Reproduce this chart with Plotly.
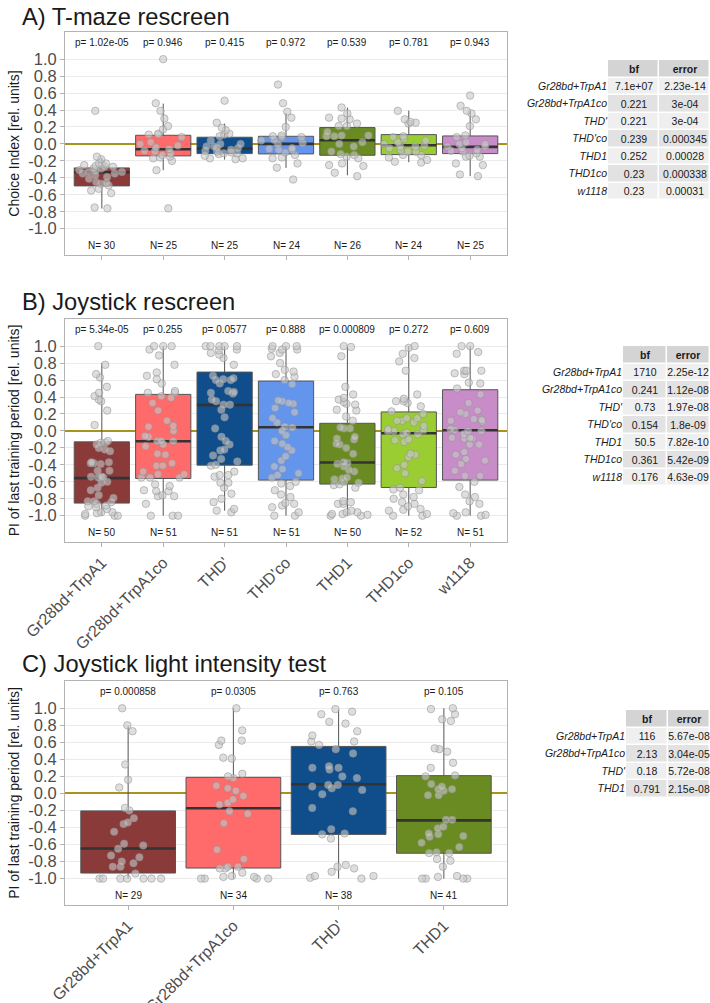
import plotly.graph_objects as go

FONT = "Liberation Sans, Arial, sans-serif"
W, H = 710, 1003

# ---------------- data ----------------
cats_ab = ["Gr28bd+TrpA1", "Gr28bd+TrpA1co", "THD'", "THD'co", "THD1", "THD1co", "w1118"]
colors_ab = ["#8B3A3A", "#FF6A6A", "#104E8B", "#6495ED", "#698B22", "#9ACD32", "#C88CC8"]
cats_c = ["Gr28bd+TrpA1", "Gr28bd+TrpA1co", "THD'", "THD1"]
colors_c = ["#8B3A3A", "#FF6A6A", "#104E8B", "#698B22"]

ytick_vals = [-1.0, -0.8, -0.6, -0.4, -0.2, 0.0, 0.2, 0.4, 0.6, 0.8, 1.0]
ytick_text = ["-1.0", "-0.8", "-0.6", "-0.4", "-0.2", "0.0", "0.2", "0.4", "0.6", "0.8", "1.0"]
table_cols = ["bf", "error"]

# Panel A: T-maze rescreen
p_a = ["1.02e-05", "0.946", "0.415", "0.972", "0.539", "0.781", "0.943"]
n_a = [30, 25, 25, 24, 26, 24, 25]
q1_a = [-0.495, -0.141, -0.114, -0.118, -0.134, -0.126, -0.114]
med_a = [-0.334, -0.063, -0.055, 0.0, 0.043, -0.016, -0.035]
q3_a = [-0.283, 0.102, 0.079, 0.09, 0.193, 0.11, 0.094]
lo_a = [-0.762, -0.31, -0.185, -0.283, -0.37, -0.216, -0.38]
hi_a = [-0.165, 0.475, 0.24, 0.365, 0.428, 0.393, 0.385]
pts_a1 = [-0.18, -0.23, -0.26, -0.24, -0.27, -0.15, -0.27, 0.39, -0.33, -0.31, -0.33, -0.41, -0.45, -0.46, -0.47,
          -0.53, -0.49, -0.55, -0.58, -0.76, -0.75, -0.35, -0.35, -0.32, -0.25, -0.29, -0.37, -0.39, -0.29, -0.23]
pts_a2 = [1.0, 0.48, 0.39, 0.30, 0.17, 0.21, 0.11, 0.11, 0.08, 0.12, -0.02, -0.08, -0.11, -0.17, -0.16, -0.09,
          -0.06, 0.0, -0.13, -0.2, -0.31, -0.76, 0.02, -0.04, -0.15]
pts_a3 = [0.51, 0.25, 0.19, 0.16, 0.12, 0.09, 0.11, 0.0, -0.05, -0.07, -0.17, -0.18, -0.14, -0.09, -0.03, -0.1,
          -0.11, -0.11, -0.08, -0.05, -0.12, -0.17, 0.0, 0.04, -0.03]
pts_a4 = [0.70, 0.48, 0.38, 0.31, 0.2, 0.1, 0.08, 0.08, 0.09, 0.01, 0.0, -0.06, -0.07, -0.07, -0.13, -0.16, -0.1,
          -0.23, -0.28, -0.17, -0.42, 0.04, 0.05, -0.05]
pts_a5 = [0.43, 0.31, 0.36, 0.3, 0.21, 0.21, 0.29, 0.24, 0.14, 0.09, 0.09, 0.1, 0.1, 0.02, -0.03, 0.0, -0.09,
          -0.12, -0.13, -0.17, -0.23, -0.25, -0.26, -0.34, -0.38, -0.15]
pts_a6 = [0.39, 0.26, 0.24, 0.25, 0.29, 0.08, 0.09, 0.0, 0.02, -0.03, -0.02, -0.09, -0.05, -0.13, -0.13, -0.16,
          -0.19, -0.22, -0.21, -0.07, -0.03, 0.04, 0.06, -0.09]
pts_a7 = [0.57, 0.45, 0.39, 0.36, 0.29, 0.21, 0.1, 0.08, 0.0, -0.03, -0.07, -0.15, -0.15, -0.14, -0.03, -0.05,
          -0.08, -0.23, -0.25, -0.38, -0.36, -0.11, -0.09, 0.02, 0.0]
bf_a = ["7.1e+07", "0.221", "0.221", "0.239", "0.252", "0.23", "0.23"]
err_a = ["2.23e-14", "3e-04", "3e-04", "0.000345", "0.00028", "0.000338", "0.00031"]

# Panel B: Joystick rescreen
p_b = ["5.34e-05", "0.255", "0.0577", "0.888", "0.000809", "0.272", "0.609"]
n_b = [50, 51, 51, 51, 50, 52, 51]
q1_b = [-0.851, -0.561, -0.404, -0.58, -0.627, -0.667, -0.58]
med_b = [-0.557, -0.122, 0.306, 0.043, -0.373, -0.027, 0.008]
q3_b = [-0.129, 0.431, 0.694, 0.588, 0.09, 0.224, 0.486]
lo_b = [-1.0, -1.0, -0.94, -1.0, -1.0, -1.0, -1.0]
hi_b = [0.80, 1.0, 1.0, 1.0, 0.99, 1.0, 1.0]
pts_b1 = [1.0, 0.78, 0.63, 0.67, 0.52, 0.45, 0.41, 0.37, 0.35, 0.24, 0.07, -0.12, -0.16, -0.14, -0.14, -0.2,
          -0.22, -0.38, -0.37, -0.39, -0.38, -0.54, -0.55, -0.54, -0.61, -0.6, -0.7, -0.76, -0.79, -0.83, -0.83,
          -0.84, -0.86, -0.88, -0.9, -0.96, -0.98, -1.0, -1.0, -0.92, -0.97, -0.89, -0.67, -0.47, -0.47, -0.37,
          -0.24, -0.55, -0.96, -1.0]
pts_b2 = [1.0, 1.0, 1.0, 0.96, 0.89, 0.78, 0.69, 0.65, 0.61, 0.56, 0.47, 0.45, 0.45, 0.41, 0.39, 0.33, 0.24,
          0.12, 0.06, 0.05, 0.0, -0.06, -0.07, -0.12, -0.12, -0.12, -0.16, -0.18, -0.27, -0.28, -0.38, -0.41,
          -0.41, -0.48, -0.51, -0.51, -0.55, -0.55, -0.55, -0.63, -0.65, -0.7, -0.71, -0.71, -0.76, -0.77, -0.77,
          -0.86, -1.0, -1.0, -1.0]
pts_b3 = [1.0, 1.0, 1.0, 1.0, 1.0, 0.96, 0.95, 0.92, 0.9, 0.86, 0.78, 0.65, 0.62, 0.61, 0.6, 0.6, 0.56, 0.47,
          0.46, 0.45, 0.44, 0.37, 0.35, 0.31, 0.31, 0.25, 0.16, 0.03, -0.07, -0.12, -0.16, -0.23, -0.29, -0.33,
          -0.36, -0.4, -0.41, -0.48, -0.52, -0.52, -0.54, -0.61, -0.61, -0.67, -0.74, -0.8, -0.84, -0.92, -0.94,
          -0.96, -0.22]
pts_b4 = [1.0, 1.0, 1.0, 0.97, 0.96, 0.96, 0.92, 0.88, 0.8, 0.72, 0.7, 0.67, 0.64, 0.6, 0.55, 0.36, 0.35, 0.33,
          0.32, 0.27, 0.22, 0.15, 0.1, 0.05, 0.04, 0.0, -0.05, -0.12, -0.15, -0.19, -0.23, -0.3, -0.35, -0.42,
          -0.45, -0.5, -0.52, -0.55, -0.6, -0.62, -0.65, -0.7, -0.75, -0.78, -0.85, -0.86, -0.88, -0.9, -0.96,
          -1.0, -1.0]
pts_b5 = [1.0, 0.99, 0.88, 0.52, 0.43, 0.39, 0.37, 0.34, 0.32, 0.31, 0.25, 0.24, 0.17, 0.12, 0.04, 0.03, 0.03,
          -0.07, -0.09, -0.1, -0.15, -0.16, -0.2, -0.27, -0.37, -0.38, -0.39, -0.42, -0.46, -0.48, -0.55, -0.56,
          -0.57, -0.6, -0.61, -0.63, -0.64, -0.67, -0.83, -0.84, -0.86, -0.86, -0.94, -0.96, -0.96, -0.98, -0.99,
          -1.0, -1.0, -0.98]
pts_b6 = [1.0, 0.98, 0.91, 0.86, 0.82, 0.71, 0.43, 0.38, 0.35, 0.35, 0.33, 0.29, 0.23, 0.2, 0.15, 0.15, 0.12,
          0.12, 0.1, 0.06, 0.02, 0.01, 0.0, 0.0, -0.02, -0.04, -0.04, -0.1, -0.11, -0.13, -0.27, -0.28, -0.31,
          -0.4, -0.44, -0.5, -0.59, -0.67, -0.69, -0.7, -0.75, -0.78, -0.8, -0.84, -0.86, -0.89, -0.92, -0.93,
          -0.94, -0.98, -1.0, -1.0]
pts_b7 = [1.0, 1.0, 0.93, 0.91, 0.71, 0.71, 0.71, 0.68, 0.67, 0.57, 0.56, 0.5, 0.43, 0.33, 0.24, 0.22, 0.2,
          0.14, 0.13, 0.12, 0.11, 0.02, 0.01, 0.0, 0.0, -0.04, -0.08, -0.08, -0.09, -0.09, -0.16, -0.16, -0.25,
          -0.28, -0.33, -0.35, -0.39, -0.47, -0.53, -0.53, -0.6, -0.66, -0.75, -0.78, -0.83, -0.86, -0.96, -0.97,
          -0.99, -1.0, -1.0]
bf_b = ["1710", "0.241", "0.73", "0.154", "50.5", "0.361", "0.176"]
err_b = ["2.25e-12", "1.12e-08", "1.97e-08", "1.8e-09", "7.82e-10", "5.42e-09", "4.63e-09"]

# Panel C: Joystick light intensity test
p_c = ["0.000858", "0.0305", "0.763", "0.105"]
n_c = [29, 34, 38, 41]
q1_c = [-0.935, -0.876, -0.481, -0.702]
med_c = [-0.647, -0.174, 0.107, -0.316]
q3_c = [-0.205, 0.189, 0.552, 0.209]
lo_c = [-1.0, -1.0, -1.0, -1.0]
hi_c = [0.793, 1.0, 0.985, 1.0]
pts_c1 = [1.0, 0.73, 0.8, 0.34, 0.16, 0.07, -0.2, -0.17, -0.29, -0.34, -0.45, -0.36, -0.59, -0.61, -0.65, -0.73,
          -0.75, -0.82, -0.8, -0.86, -0.86, -0.94, -1.0, -1.0, -1.0, -1.0, -1.0, -1.0, -1.0]
pts_c2 = [1.0, 0.74, 0.62, 0.62, 0.57, 0.41, 0.42, 0.23, 0.2, 0.18, 0.06, 0.03, 0.09, -0.03, -0.07, -0.13,
          -0.11, -0.21, -0.24, -0.35, -0.66, -0.77, -0.86, -0.86, -0.88, -0.88, -0.93, -0.97, -0.98, -1.0, -1.0,
          -1.0, -1.0, -0.98]
pts_c3 = [0.99, 0.96, 0.93, 0.84, 0.82, 0.73, 0.68, 0.61, 0.61, 0.57, 0.52, 0.47, 0.3, 0.28, 0.32, 0.3, 0.18,
          0.2, 0.1, 0.1, 0.08, 0.06, 0.04, -0.01, -0.17, -0.21, -0.42, -0.47, -0.48, -0.53, -0.84, -0.88, -0.86,
          -0.92, -0.97, -1.0, -0.99, -0.97]
pts_c4 = [1.0, 0.99, 0.93, 0.87, 0.85, 0.52, 0.53, 0.49, 0.36, 0.3, 0.21, 0.2, 0.11, 0.08, 0.05, 0.05, 0.03,
          -0.02, -0.02, -0.31, -0.31, -0.39, -0.41, -0.48, -0.47, -0.51, -0.5, -0.58, -0.63, -0.69, -0.7, -0.7,
          -0.77, -0.79, -0.86, -0.97, -0.98, -1.0, -1.0, -1.0, -1.0]
bf_c = ["116", "2.13", "0.18", "0.791"]
err_c = ["5.67e-08", "3.04e-05", "5.72e-08", "2.15e-08"]

pts_a = [pts_a1, pts_a2, pts_a3, pts_a4, pts_a5, pts_a6, pts_a7]
pts_b = [pts_b1, pts_b2, pts_b3, pts_b4, pts_b5, pts_b6, pts_b7]
pts_c = [pts_c1, pts_c2, pts_c3, pts_c4]

# ---------------- figure ----------------
fig = go.Figure()
annotations = []


def py(px):
    return 1 - px / H


def add_panel(xa, ya, cats, colors, q1, med, q3, lo, hi, pts, pvals, ns):
    for i, c in enumerate(cats):
        fig.add_trace(go.Box(x=[c], q1=[q1[i]], median=[med[i]], q3=[q3[i]],
                             lowerfence=[lo[i]], upperfence=[hi[i]],
                             fillcolor=colors[i], line=dict(color="#555555", width=1),
                             width=0.9, whiskerwidth=0, boxpoints=False,
                             xaxis=xa, yaxis=ya, hoverinfo="skip", showlegend=False))
    for i, c in enumerate(cats):
        fig.add_trace(go.Box(x=[c], q1=[med[i]], median=[med[i]], q3=[med[i]],
                             lowerfence=[med[i]], upperfence=[med[i]],
                             fillcolor="rgba(0,0,0,0)", line=dict(color="#333333", width=2.6),
                             width=0.9, whiskerwidth=0, boxpoints=False,
                             xaxis=xa, yaxis=ya, hoverinfo="skip", showlegend=False))
    for i, c in enumerate(cats):
        fig.add_trace(go.Box(x=[c] * len(pts[i]), y=pts[i], boxpoints="all", jitter=0.95, pointpos=0,
                             width=0.9, fillcolor="rgba(0,0,0,0)",
                             line=dict(color="rgba(0,0,0,0)", width=0),
                             marker=dict(size=7.5, color="rgba(200,200,200,0.6)",
                                         line=dict(color="rgba(140,140,140,0.5)", width=1)),
                             xaxis=xa, yaxis=ya, hoverinfo="skip", showlegend=False))
    for i, c in enumerate(cats):
        annotations.append(dict(x=c, y=1.2, xref=xa, yref=ya, text="p= " + pvals[i], showarrow=False,
                                font=dict(size=10, color="#1a1a1a", family=FONT)))
        annotations.append(dict(x=c, y=-1.2, xref=xa, yref=ya, text="N= " + str(ns[i]), showarrow=False,
                                font=dict(size=10, color="#1a1a1a", family=FONT)))


add_panel("x", "y", cats_ab, colors_ab, q1_a, med_a, q3_a, lo_a, hi_a, pts_a, p_a, n_a)
add_panel("x2", "y2", cats_ab, colors_ab, q1_b, med_b, q3_b, lo_b, hi_b, pts_b, p_b, n_b)
add_panel("x3", "y3", cats_c, colors_c, q1_c, med_c, q3_c, lo_c, hi_c, pts_c, p_c, n_c)


def add_table(xa, ya, labels, bf, err):
    n = len(labels)
    rows = [" "] + labels
    z = [[2, 2]] + [[k % 2, k % 2] for k in range(n)]
    text = [["<b>" + table_cols[0] + "</b>", "<b>" + table_cols[1] + "</b>"]] + \
           [[bf[k], err[k]] for k in range(n)]
    fig.add_trace(go.Heatmap(x=table_cols, y=rows, z=z, text=text, texttemplate="%{text}",
                             textfont=dict(size=10.5, color="#1a1a1a", family=FONT),
                             colorscale=[[0, "#efefef"], [0.5, "#e2e2e2"], [1, "#d4d4d4"]],
                             zmin=0, zmax=2, showscale=False, xgap=1.5, ygap=1.5,
                             xaxis=xa, yaxis=ya, hoverinfo="skip"))
    return rows


table_specs = [
    ("x4", "y4", cats_ab, bf_a, err_a, 608, 60),
    ("x5", "y5", cats_ab, bf_b, err_b, 623, 346),
    ("x6", "y6", cats_c, bf_c, err_c, 626, 710),
]
table_rows = []
for xa, ya, labels, bf, err, x0px, topx in table_specs:
    table_rows.append(add_table(xa, ya, labels, bf, err))

titles = [("A) T-maze rescreen", 16.5), ("B) Joystick rescreen", 301.5), ("C) Joystick light intensity test", 663.5)]
for t, ypx in titles:
    annotations.append(dict(x=20 / W, y=py(ypx), xref="paper", yref="paper", text=t, showarrow=False,
                            xanchor="left", yanchor="middle", font=dict(size=23.7, color="#1a1a1a", family=FONT)))

xdom = [65 / W, 507 / W]
ydoms = [[py(255), py(32)], [py(542), py(319)], [py(905), py(681)]]
ytitles = ["Choice Index [rel. units]", "PI of last training period [rel. units]",
           "PI of last training period [rel. units]"]
cat_lists = [cats_ab, cats_ab, cats_c]

layout = dict(template="none", width=W, height=H, margin=dict(l=0, r=0, t=0, b=0, autoexpand=False),
              paper_bgcolor="white", plot_bgcolor="white", boxmode="overlay", showlegend=False,
              font=dict(family=FONT), annotations=annotations)
for k in range(3):
    sx = "" if k == 0 else str(k + 1)
    cats = cat_lists[k]
    layout["xaxis" + sx] = dict(domain=xdom, anchor="y" + sx, type="category", automargin=False,
                                categoryorder="array", categoryarray=cats,
                                range=[-0.6, len(cats) - 0.4], showgrid=False, zeroline=False,
                                showline=True, mirror=True, linecolor="#b3b3b3", linewidth=1,
                                ticks="outside", ticklen=4, tickcolor="#b3b3b3",
                                showticklabels=(k > 0), tickangle=-45,
                                tickfont=dict(size=16, color="#4d4d4d", family=FONT))
    layout["yaxis" + sx] = dict(domain=ydoms[k], anchor="x" + sx, range=[-1.31, 1.32], automargin=False,
                                tickvals=ytick_vals, ticktext=ytick_text,
                                showgrid=True, gridcolor="#ebebeb", gridwidth=1,
                                zeroline=True, zerolinecolor="#A8931C", zerolinewidth=2,
                                showline=True, mirror=True, linecolor="#b3b3b3", linewidth=1,
                                ticks="outside", ticklen=4, tickcolor="#b3b3b3",
                                tickfont=dict(size=16.5, color="#4d4d4d", family=FONT),
                                title=dict(text=ytitles[k], font=dict(size=14, color="#1a1a1a", family=FONT),
                                           standoff=5))

for j, (xa, ya, labels, bf, err, x0px, topx) in enumerate(table_specs):
    rows = table_rows[j]
    nrow = len(rows)
    layout["xaxis" + xa[1:]] = dict(domain=[x0px / W, 1.0], anchor=ya, type="category", automargin=False,
                                    range=[-0.5, 1.5], showgrid=False, zeroline=False, showline=False,
                                    ticks="", showticklabels=False, fixedrange=True)
    layout["yaxis" + ya[1:]] = dict(domain=[py(topx + 17.5 * nrow), py(topx)], anchor=xa, type="category",
                                    automargin=False, categoryorder="array", categoryarray=rows,
                                    range=[nrow - 0.5, -0.5], showgrid=False, zeroline=False,
                                    showline=False, ticks="", fixedrange=True,
                                    tickvals=rows, ticktext=[" "] + ["<i>" + s + "</i>" for s in rows[1:]],
                                    tickfont=dict(size=10.5, color="#1a1a1a", family=FONT))

fig.update_layout(**layout)
fig.write_html("out.html", config={"displayModeBar": False},
               post_script="document.body.style.margin='0px';")
